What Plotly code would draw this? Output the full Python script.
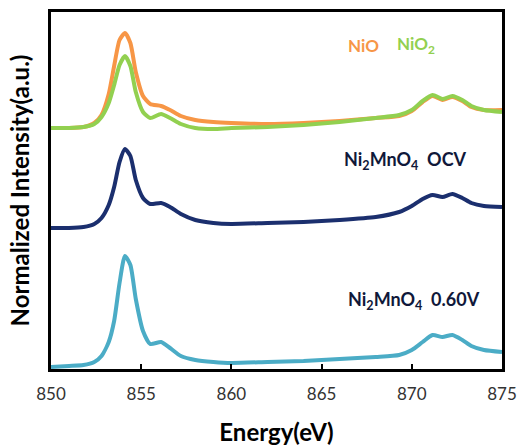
import plotly.graph_objects as go

# Energy grid (eV)
energy = [850, 851, 851.8, 852.4, 852.8, 853.2, 853.5, 853.8, 854.1, 854.4, 854.7, 855.1, 855.5,
          856.1, 856.6, 857.2, 858, 859, 860, 862, 864, 866, 868, 869.3, 870, 870.6,
          871.15, 871.7, 872.25, 872.8, 873.3, 874, 875]

# Normalized intensity (arbitrary units, offset stacked)
nio = [241, 241, 242, 246, 254, 275, 303, 329, 336, 326, 297, 273, 265,
       263, 259, 253, 249, 247, 246, 245, 246, 248, 251, 253, 258, 267,
       273, 269, 272, 268, 262, 259, 259]
nio2 = [241, 241, 242, 245, 252, 266, 284, 304, 313, 303, 277, 257, 251,
        255, 251, 245, 241, 240, 241, 242, 244, 247, 251, 254, 259, 268,
        274, 270, 273, 269, 263, 259, 257]
ocv = [141, 141, 142, 145, 151, 164, 182, 207, 220, 213, 189, 171, 165,
       166, 162, 155, 149, 146, 145, 146, 147, 149, 152, 157, 163, 170,
       174, 172, 175, 171, 166, 163, 162]
v060 = [2, 3, 4, 7, 13, 27, 48, 86, 113, 104, 70, 38, 25,
        27, 21, 13, 9, 7, 6, 7, 8, 10, 12, 14, 19, 27,
        34, 32, 34, 29, 23, 19, 17]

x_ticks = [850, 855, 860, 865, 870, 875]

ORANGE = "#F79646"
GREEN = "#92D050"
NAVY = "#1B2F6E"
AQUA = "#4BACC6"

fig = go.Figure()
for y, c in [(nio, ORANGE), (nio2, GREEN), (ocv, NAVY), (v060, AQUA)]:
    fig.add_trace(go.Scatter(x=energy, y=y, mode="lines",
                             line=dict(color=c, width=4, shape="spline", smoothing=0.6),
                             showlegend=False, hoverinfo="skip"))

fig.update_layout(
    width=518, height=446,
    margin=dict(l=51, r=16, t=12, b=77),
    paper_bgcolor="white", plot_bgcolor="white",
    font=dict(family="Lato", color="#222"),
)
fig.update_xaxes(
    range=[850, 875], tickvals=x_ticks, ticks="inside", ticklen=5, tickwidth=1.5,
    tickcolor="black", showline=True, linecolor="black", linewidth=3, mirror=True,
    showgrid=False, zeroline=False, tickfont=dict(size=17, color="#333"),
    ticklabelstandoff=8, automargin=False,
    title=dict(text="<b>Energy(eV)</b>", font=dict(size=24, color="black"), standoff=22),
)
fig.update_yaxes(
    range=[0, 357], showticklabels=False, ticks="", showline=True, linecolor="black",
    linewidth=3, mirror=True, showgrid=False, zeroline=False, automargin=False,
    title=dict(text="<b>Normalized Intensity(a.u.)</b>", font=dict(size=24, color="black"), standoff=12),
)

anns = [
    ("<b>NiO</b>", 363, 45, ORANGE, 17),
    ("<b>NiO<sub>2</sub></b>", 416, 45, GREEN, 17),
    ("<b>Ni<sub>2</sub>MnO<sub>4</sub>  OCV</b>", 405, 160, "#10183A", 18),
    ("<b>Ni<sub>2</sub>MnO<sub>4</sub>  0.60V</b>", 414, 300, "#10183A", 18),
]
for t, px, py, c, fs in anns:
    fig.add_annotation(text=t, x=(px - 51) / 451, y=1 - (py - 12) / 357,
                       xref="paper", yref="paper", showarrow=False,
                       xanchor="center", yanchor="middle",
                       font=dict(size=fs, color=c, family="Lato"))

fig.write_html("out.html")
